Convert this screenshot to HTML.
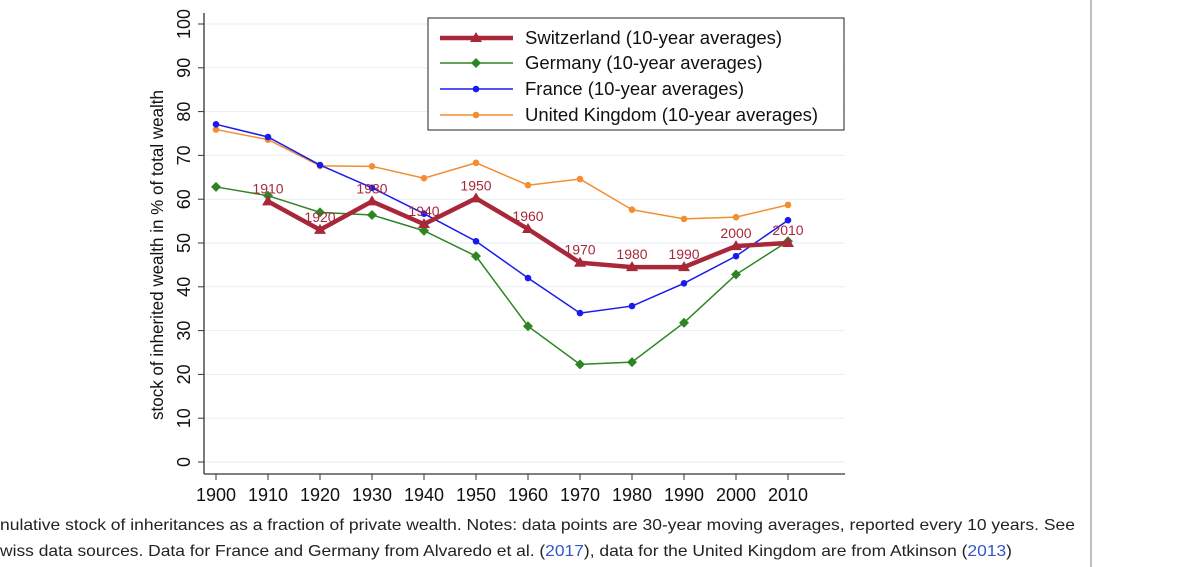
<!DOCTYPE html>
<html><head><meta charset="utf-8">
<style>
body{margin:0;background:#fff;}
svg{display:block;font-family:"Liberation Sans",Arial,sans-serif;}
</style></head>
<body>
<svg id="chart" width="1200" height="567" viewBox="0 0 1200 567">
  <line x1="1091" y1="0" x2="1091" y2="567" stroke="#aaa" stroke-width="1.5"/>
  <g id="grid"></g>
  <g id="axes"></g>
  <g id="series"></g>
  <text transform="translate(163,255) rotate(-90)" text-anchor="middle" font-size="17.5" fill="#111" textLength="330" lengthAdjust="spacingAndGlyphs">stock of inherited wealth in % of total wealth</text>
  <g>
    <rect x="428" y="18" width="416" height="112" fill="#fff" stroke="#222" stroke-width="1"/>
  </g>
  <g id="legend"></g>
  <text x="0" y="530" font-size="16" fill="#222" textLength="1075" lengthAdjust="spacingAndGlyphs">nulative stock of inheritances as a fraction of private wealth. Notes: data points are 30-year moving averages, reported every 10 years. See</text>
  <text x="0" y="556" font-size="16" fill="#222" textLength="1012" lengthAdjust="spacingAndGlyphs">wiss data sources. Data for France and Germany from Alvaredo et al. (<tspan fill="#3355cc">2017</tspan>), data for the United Kingdom are from Atkinson (<tspan fill="#3355cc">2013</tspan>)</text>
</svg>
<script>
const years = [1900,1910,1920,1930,1940,1950,1960,1970,1980,1990,2000,2010];
const swissYears = [1910,1920,1930,1940,1950,1960,1970,1980,1990,2000,2010];
const swiss = [59.5,53,59.5,54.3,60.2,53.2,45.5,44.5,44.5,49.3,50];
const germany = [62.8,60.8,57,56.4,52.8,47,31,22.3,22.8,31.8,42.8,50.4];
const france = [77.1,74.2,67.8,62.6,56.7,50.4,42,34,35.6,40.8,47,55.2];
const uk = [75.9,73.6,67.6,67.5,64.8,68.3,63.2,64.6,57.6,55.5,55.9,58.7];
const yTicks = [0,10,20,30,40,50,60,70,80,90,100];

const NS="http://www.w3.org/2000/svg";
const xs = y => 216 + (y-1900)/10*52;
const ys = v => 462 - v*4.38;
function mk(tag, attrs, parent){const e=document.createElementNS(NS,tag);for(const k in attrs)e.setAttribute(k,attrs[k]);parent.appendChild(e);return e;}
const grid=document.getElementById('grid'), axes=document.getElementById('axes'), series=document.getElementById('series'), legend=document.getElementById('legend');

yTicks.forEach(t=>{
  const g=mk('line',{x1:204,x2:845,y1:ys(t),y2:ys(t),stroke:'#e6eef4','stroke-width':1},grid);
  
  
  const tk=mk('line',{x1:198,x2:204,y1:ys(t),y2:ys(t),stroke:'#333'},axes);
  
  
  const tl=mk('text',{transform:`translate(190,${ys(t)}) rotate(-90)`,'text-anchor':'middle','font-size':18,fill:'#111'},axes);
  tl.textContent=t;
  
  
});
const ya=mk('line',{x1:204,x2:204,y1:13,y2:474,stroke:'#333','stroke-width':1.3},axes);


const xa=mk('line',{x1:204,x2:845,y1:474,y2:474,stroke:'#333','stroke-width':1.3},axes);


years.forEach(y=>{
  const tk=mk('line',{x1:xs(y),x2:xs(y),y1:474,y2:480,stroke:'#333'},axes);
  
  
  const tl=mk('text',{x:xs(y),y:501,'text-anchor':'middle','font-size':18,fill:'#111'},axes);
  tl.textContent=y;
  
  
});

function marker(type,x,y,color,parent){
  let m;
  if(type==='tri') m=mk('polygon',{points:`${x},${y-6} ${x-6},${y+4} ${x+6},${y+4}`,fill:color},parent);
  else if(type==='dia') m=mk('polygon',{points:`${x},${y-5} ${x+5},${y} ${x},${y+5} ${x-5},${y}`,fill:color},parent);
  else m=mk('circle',{cx:x,cy:y,r:3.3,fill:color},parent);
  return m;
}
function drawSeries(xv,vals,color,width,type,name){
  const g=mk('g',{},series);
  
  
  const pts=vals.map((v,i)=>xs(xv[i])+','+ys(v)).join(' ');
  const l=mk('polyline',{points:pts,fill:'none',stroke:color,'stroke-width':width,'stroke-linejoin':'miter'},g);
  
  
  vals.forEach((v,i)=>{
    const m=marker(type,xs(xv[i]),ys(v),color,g);
    
    
  });
}
drawSeries(years,uk,'#f28e30',1.5,'dot','uk');
drawSeries(years,france,'#1a1aee',1.5,'dot','france');
drawSeries(years,germany,'#2e8524',1.5,'dia','germany');
drawSeries(swissYears,swiss,'#a8283a',4.5,'tri','switzerland');
swissYears.forEach((y,i)=>{
  const t=mk('text',{x:xs(y),y:ys(swiss[i])-8,'text-anchor':'middle','font-size':14,fill:'#a8283a'},series);
  t.textContent=y;
  
  
});

const legendItems=[['Switzerland (10-year averages)','#a8283a',4.5,'tri'],['Germany (10-year averages)','#2e8524',1.5,'dia'],['France (10-year averages)','#1a1aee',1.5,'dot'],['United Kingdom (10-year averages)','#f28e30',1.5,'dot']];
const legendRows=[38,63,89,115];
legendItems.forEach((it,i)=>{
  const y=legendRows[i];
  const g=mk('g',{},legend);
  
  
  mk('line',{x1:440,x2:513,y1:y,y2:y,stroke:it[1],'stroke-width':it[2]},g);
  marker(it[3],476,y,it[1],g);
  const t=mk('text',{x:525,y:y+6,'font-size':18.5,fill:'#111'},g);
  t.textContent=it[0];
});
</script>
</body></html>
